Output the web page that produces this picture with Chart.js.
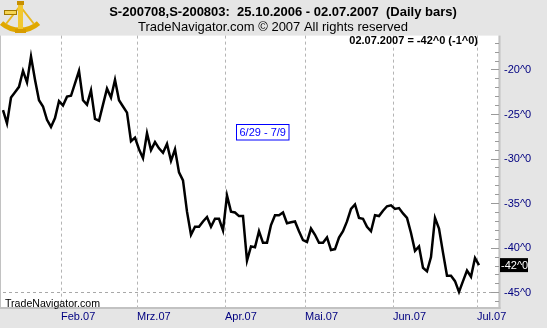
<!DOCTYPE html>
<html><head><meta charset="utf-8">
<script src="https://cdn.jsdelivr.net/npm/chart.js@4.4.0/dist/chart.umd.min.js"></script>
<style>html,body{margin:0;padding:0;background:#e5e5e5;overflow:hidden}#wrap{width:547px;height:328px;position:relative}</style>
</head><body><div id="wrap"><canvas id="c" width="547" height="328"></canvas></div>
<script>
// Trading days (category axis) — last days of July have no data yet
const categories = [
 '10.01.2007','11.01.2007','12.01.2007','16.01.2007','17.01.2007','18.01.2007','19.01.2007','22.01.2007','23.01.2007','24.01.2007','25.01.2007','26.01.2007','29.01.2007','30.01.2007','31.01.2007',
 '01.02.2007','02.02.2007','05.02.2007','06.02.2007','07.02.2007','08.02.2007','09.02.2007','12.02.2007','13.02.2007','14.02.2007','15.02.2007','16.02.2007','20.02.2007','21.02.2007','22.02.2007','23.02.2007','26.02.2007','27.02.2007','28.02.2007',
 '01.03.2007','02.03.2007','05.03.2007','06.03.2007','07.03.2007','08.03.2007','09.03.2007','12.03.2007','13.03.2007','14.03.2007','15.03.2007','16.03.2007','19.03.2007','20.03.2007','21.03.2007','22.03.2007','23.03.2007','26.03.2007','27.03.2007','28.03.2007','29.03.2007','30.03.2007',
 '02.04.2007','03.04.2007','04.04.2007','05.04.2007','09.04.2007','10.04.2007','11.04.2007','12.04.2007','13.04.2007','16.04.2007','17.04.2007','18.04.2007','19.04.2007','20.04.2007','23.04.2007','24.04.2007','25.04.2007','26.04.2007','27.04.2007','30.04.2007',
 '01.05.2007','02.05.2007','03.05.2007','04.05.2007','07.05.2007','08.05.2007','09.05.2007','10.05.2007','11.05.2007','14.05.2007','15.05.2007','16.05.2007','17.05.2007','18.05.2007','21.05.2007','22.05.2007','23.05.2007','24.05.2007','25.05.2007','29.05.2007','30.05.2007','31.05.2007',
 '01.06.2007','04.06.2007','05.06.2007','06.06.2007','07.06.2007','08.06.2007','11.06.2007','12.06.2007','13.06.2007','14.06.2007','15.06.2007','18.06.2007','19.06.2007','20.06.2007','21.06.2007','22.06.2007','25.06.2007','26.06.2007','27.06.2007','28.06.2007','29.06.2007',
 '02.07.2007','03.07.2007','05.07.2007','06.07.2007'
];
const spreadValues = [
 -24.5,-26.0,-23.1,-22.5,-21.9,-20.1,-21.4,-18.5,-21.1,-23.4,
 -24.1,-25.6,-26.4,-25.4,-23.5,-24.0,-23.0,-22.9,-21.5,-20.1,
 -23.4,-23.9,-22.3,-25.5,-25.7,-23.9,-22.1,-23.1,-21.1,-23.4,
 -24.1,-24.8,-28.0,-27.6,-28.9,-29.9,-27.1,-29.0,-28.1,-28.8,
 -29.3,-28.3,-30.2,-28.9,-31.5,-32.4,-35.9,-38.5,-37.6,-37.6,
 -37.0,-36.5,-37.6,-36.7,-36.7,-38.0,-34.1,-35.9,-36.0,-36.4,
 -36.4,-41.4,-39.8,-39.9,-38.1,-39.4,-39.4,-37.4,-36.3,-36.3,
 -36.0,-37.2,-37.1,-37.0,-38.1,-39.1,-39.3,-37.8,-38.5,-39.4,
 -39.4,-38.8,-40.2,-40.1,-38.8,-38.1,-37.0,-35.6,-35.1,-36.6,
 -36.7,-37.6,-38.1,-36.3,-36.4,-35.8,-35.3,-35.2,-35.6,-35.5,
 -36.1,-36.6,-38.3,-40.3,-39.8,-42.2,-42.6,-41.0,-36.6,-37.8,
 -40.5,-43.1,-43.1,-43.7,-44.9,-43.7,-42.5,-43.2,-41.1,-41.9,
 null,null,null
];
const monthStarts = ['01.02.2007','01.03.2007','02.04.2007','01.05.2007','01.06.2007','02.07.2007'];
const monthLabels = ['Feb.07','Mrz.07','Apr.07','Mai.07','Jun.07','Jul.07'];
const yMajorTicks = [-45,-40,-35,-30,-25,-20];
const yMinorTicks = [-46,-45,-44,-43,-42,-41,-40,-39,-38,-37,-36,-35,-34,-33,-32,-31,-30,-29,-28,-27,-26,-25,-24,-23,-22,-21,-20,-19,-18,-17];
const yMin = -46.6, yMax = -16.15;
const titleText = 'S-200708,S-200803:  25.10.2006 - 02.07.2007  (Daily bars)';
const subtitleText = 'TradeNavigator.com \u00A9 2007 All rights reserved';
const footerText = 'TradeNavigator.com';
const rangeLabel = '6/29 - 7/9';

const FONT = '"Liberation Sans", Arial, sans-serif';
const NAVY = '#000080';

function lastIndex(){ let i = spreadValues.length - 1; while (i >= 0 && spreadValues[i] === null) i--; return i; }

function drawLogo(ctx) {
  ctx.save();
  ctx.strokeStyle = '#a07800';
  ctx.lineWidth = 1;
  // arc band
  ctx.strokeStyle = '#e0a800';
  ctx.lineWidth = 5;
  ctx.beginPath();
  ctx.arc(20, 2, 28, Math.PI * 0.27, Math.PI * 0.73);
  ctx.stroke();
  // radial arms
  ctx.lineWidth = 2;
  ctx.strokeStyle = '#e8b820';
  ctx.beginPath();
  ctx.moveTo(20, 6); ctx.lineTo(6, 24);
  ctx.moveTo(20, 6); ctx.lineTo(34, 24);
  ctx.stroke();
  // central frame
  ctx.fillStyle = '#f2c830';
  ctx.fillRect(18, 3, 5, 28);
  ctx.fillStyle = '#c89000';
  ctx.fillRect(17, 1, 7, 4);
  // telescope
  ctx.fillStyle = '#f5d454';
  ctx.fillRect(4, 10, 13, 5);
  ctx.strokeStyle = '#a07800';
  ctx.lineWidth = 1;
  ctx.strokeRect(4.5, 10.5, 12, 4);
  // base
  ctx.fillStyle = '#d89c00';
  ctx.fillRect(15, 29, 11, 4);
  ctx.restore();
}

const panelPlugin = {
  id: 'panel',
  beforeDraw(chart) {
    const {ctx, chartArea: a, width, height} = chart;
    const yOut = chart.scales.y;
    ctx.save();
    ctx.fillStyle = '#e5e5e5';
    ctx.fillRect(0, 0, width, height);
    const left = a.left - 2, right = yOut.left + 3.5;
    ctx.fillStyle = '#ffffff';
    ctx.fillRect(left, a.top, right - left, a.bottom - a.top);
    ctx.fillStyle = '#c2c2c2';
    ctx.fillRect(left - 1, a.top, 1, a.bottom - a.top + 2);
    ctx.fillRect(right, a.top, 2, a.bottom - a.top + 2);
    ctx.fillRect(left - 1, a.bottom, right - left + 3, 2);
    ctx.restore();
  },
  afterDraw(chart) {
    const {ctx} = chart;
    const yOut = chart.scales.y;
    ctx.save();
    drawLogo(ctx);
    // header
    ctx.fillStyle = '#000';
    ctx.textBaseline = 'middle';
    ctx.textAlign = 'center';
    ctx.font = 'bold 13px ' + FONT;
    ctx.fillText(titleText, 283, 12);
    ctx.font = '13px ' + FONT;
    ctx.fillText(subtitleText, 273, 27);
    // last value summary
    const li = lastIndex();
    const last = Math.round(spreadValues[li]);
    const prev = Math.round(spreadValues[li - 1]);
    ctx.font = 'bold 11px ' + FONT;
    ctx.textAlign = 'right';
    ctx.fillText(categories[li] + ' = ' + last + '^0 (' + (last - prev) + '^0)', 478, 41);
    // range box
    ctx.font = '11px ' + FONT;
    ctx.textAlign = 'center';
    ctx.fillStyle = '#fff';
    ctx.fillRect(236.5, 124.5, 52.5, 15.5);
    ctx.strokeStyle = '#0000ff';
    ctx.lineWidth = 1;
    ctx.strokeRect(236.5, 124.5, 52.5, 15.5);
    ctx.fillStyle = '#0000ff';
    ctx.fillText(rangeLabel, 262.7, 132.5);
    // footer
    ctx.fillStyle = '#000';
    ctx.textAlign = 'left';
    ctx.font = '10.6px ' + FONT;
    ctx.fillText(footerText, 5, 304);
    // last value marker
    const py = yOut.getPixelForValue(spreadValues[li]);
    ctx.fillStyle = '#000';
    ctx.fillRect(yOut.left + 5, py - 7, 28, 14);
    ctx.fillStyle = '#fff';
    ctx.font = '11px ' + FONT;
    ctx.fillText(last + '^0', yOut.left + 6, py + 0.5);
    ctx.restore();
  }
};

new Chart(document.getElementById('c'), {
  type: 'line',
  data: {
    labels: categories,
    datasets: [{
      data: spreadValues,
      borderColor: '#000',
      borderWidth: 2.5,
      pointRadius: 0,
      tension: 0,
      yAxisID: 'y',
      xAxisID: 'x'
    }]
  },
  options: {
    responsive: false,
    animation: false,
    devicePixelRatio: 1,
    layout: { padding: { top: 35.6, left: 3, right: 0, bottom: 1.8 } },
    plugins: { legend: { display: false }, tooltip: { enabled: false }, title: { display: false } },
    scales: {
      x: {
        type: 'category',
        offset: false,
        border: { display: false, dash: [3, 3] },
        grid: {
          offset: true,
          drawTicks: false,
          lineWidth: 1,
          color: (c) => monthStarts.includes(categories[c.index]) ? '#b4b4b4' : 'rgba(0,0,0,0)'
        },
        ticks: {
          autoSkip: false,
          maxRotation: 0,
          minRotation: 0,
          align: 'start',
          labelOffset: -2,
          padding: 3,
          color: NAVY,
          font: { family: FONT, size: 11 },
          callback: (v, i) => { const k = monthStarts.indexOf(categories[i]); return k >= 0 ? monthLabels[k] : ''; }
        }
      },
      yInner: {
        type: 'linear',
        position: 'right',
        weight: 0,
        min: yMin, max: yMax,
        afterBuildTicks: (s) => { s.ticks = yMajorTicks.map(v => ({ value: v })); },
        afterFit: (s) => { s.width = 4; },
        border: { display: false, dash: [3, 3] },
        grid: {
          drawOnChartArea: true,
          drawTicks: true,
          tickLength: 4,
          tickColor: '#9a9a9a',
          color: (c) => (c.tick && c.tick.value === -45) ? '#a8a8a8' : 'rgba(0,0,0,0)'
        },
        ticks: { display: false }
      },
      y: {
        type: 'linear',
        position: 'right',
        weight: 1,
        min: yMin, max: yMax,
        afterBuildTicks: (s) => { s.ticks = yMinorTicks.map(v => ({ value: v })); },
        afterFit: (s) => { s.width = 52; },
        border: { display: false },
        grid: {
          drawOnChartArea: false,
          drawTicks: true,
          tickLength: 4,
          tickColor: '#9a9a9a'
        },
        ticks: {
          autoSkip: false,
          padding: 5,
          color: NAVY,
          font: { family: FONT, size: 11 },
          callback: (v) => yMajorTicks.includes(v) ? v + '^0' : ''
        }
      }
    }
  },
  plugins: [panelPlugin]
});
</script>
</body></html>
